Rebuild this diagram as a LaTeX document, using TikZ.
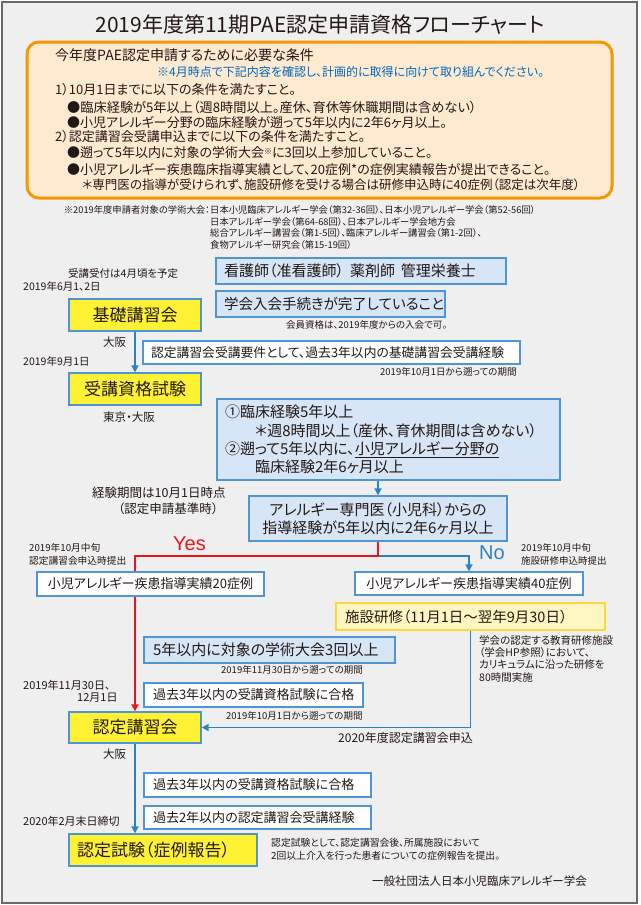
\documentclass[tikz,border=0pt]{standalone}
\usepackage{fontspec}
\setmainfont{Noto Sans CJK JP}[RawFeature=+palt]
\newfontfamily\lat{Liberation Sans}
\usetikzlibrary{arrows.meta}
\pgfdeclarelayer{bg}
\pgfdeclarelayer{lines}
\pgfsetlayers{bg,lines,main}
\definecolor{framebg}{HTML}{EFEFEF}
\definecolor{framec}{HTML}{6A6A6A}
\definecolor{orangec}{HTML}{F39800}
\definecolor{orangefill}{HTML}{FDEAD0}
\definecolor{bluet}{HTML}{0068C0}
\definecolor{lbfill}{HTML}{D6E6F6}
\definecolor{boxc}{HTML}{4F94D4}
\definecolor{yelc}{HTML}{FFF235}
\definecolor{arrc}{HTML}{2B83C6}
\definecolor{redc}{HTML}{E8141E}
\definecolor{sfill}{HTML}{FFF6C1}
\definecolor{sdraw}{HTML}{FFD541}
\definecolor{txt}{HTML}{231815}
\newcommand\fz[2]{\fontsize{#1}{#2}\selectfont}
\tikzset{
 every node/.style={inner sep=0pt, text=txt},
 lbl/.style={anchor=west},
 bx/.style={draw=boxc, line width=1.3pt, inner xsep=8pt, inner ysep=0pt, align=left},
 lb/.style={bx, fill=lbfill},
 wb/.style={bx, fill=white},
 yb/.style={bx, fill=yelc, align=center, font=\fz{17}{20}},
 con/.style={draw=arrc, line width=1.8pt},
 redcon/.style={draw=redc, line width=1.8pt},
 arrtip/.style={-{Triangle[length=7pt,width=7pt]}},
}
\begin{document}
\begin{tikzpicture}[x=1pt,y=-1pt]
\useasboundingbox (0,0) rectangle (640,905);
\begin{pgfonlayer}{bg}
\fill[white] (0,0) rectangle (640,905);
\draw[fill=framebg, draw=framec, line width=1.5pt] (2,2) rectangle (637,903);
\end{pgfonlayer}

% title
\node (title) at (320,25) {\fz{21}{25}2019年度第11期PAE認定申請資格フローチャート};

% condition box
\node[draw=orangec, fill=orangefill, line width=3pt, rounded corners=12pt, minimum width=585pt, minimum height=156pt] (cond) at (319.5,120) {};
\node[lbl, font=\fz{14}{16}] (c0) at (55,55) {今年度PAE認定申請するために必要な条件};
\node[lbl, font=\fz{12}{14}, text=bluet] (c1) at (157,72) {※4月時点で下記内容を確認し、計画的に取得に向けて取り組んでください。};
\node[lbl, font=\fz{13}{15}] (c2) at (55,90) {1）10月1日までに以下の条件を満たすこと。};
\node[lbl, font=\fz{13.2}{15}] (c3) at (67,107) {●臨床経験が5年以上（週8時間以上。産休、育休等休職期間は含めない）};
\node[lbl, font=\fz{13}{15}] (c4) at (67,123) {●小児アレルギー分野の臨床経験が遡って5年以内に2年6ヶ月以上。};
\node[lbl, font=\fz{13}{15}] (c5) at (55,137) {2）認定講習会受講申込までに以下の条件を満たすこと。};
\node[lbl, font=\fz{13}{15}] (c6) at (67,153) {●遡って5年以内に対象の学術大会\raisebox{3pt}{\fz{8}{8}※}に3回以上参加していること。};
\node[lbl, font=\fz{13}{15}] (c7) at (67,170) {●小児アレルギー疾患臨床指導実績として、20症例*の症例実績報告が提出できること。};
\node[lbl, font=\fz{12.5}{15}] (c8) at (82,185) {＊専門医の指導が受けられず、施設研修を受ける場合は研修申込時に40症例（認定は次年度）};

% footnote
\node[anchor=east, font=\fz{9.3}{11}] (fnh) at (210,210) {※2019年度申請者対象の学術大会：};
\node[lbl, font=\fz{9.3}{11}] (fn1) at (210,210) {日本小児臨床アレルギー学会（第32-36回）、日本小児アレルギー学会（第52-56回）};
\node[lbl, font=\fz{9.3}{11}] (fn2) at (210,221.5) {日本アレルギー学会（第64-68回）、日本アレルギー学会地方会};
\node[lbl, font=\fz{9.3}{11}] (fn3) at (210,233) {総合アレルギー講習会（第1-5回）、臨床アレルギー講習会（第1-2回）、};
\node[lbl, font=\fz{9.3}{11}] (fn4) at (210,244.5) {食物アレルギー研究会（第15-19回）};

% right requirement boxes
\node[lb, minimum height=26pt, text width=274pt, font=\fz{15}{18}] (req1) at (361,271) {看護師（准看護師）\hspace{6pt}薬剤師\hspace{6pt}管理栄養士};
\node[lb, minimum height=26pt, text width=213pt, font=\fz{14.5}{18}] (req2) at (330.5,304) {学会入会手続きが完了していること};
\node[lbl, font=\fz{9.5}{11}] (req2n) at (286,324.5) {会員資格は、2019年度からの入会で可。};
\node[wb, minimum height=23pt, text width=361pt, font=\fz{12.8}{15}] (req3) at (331.5,352.5) {認定講習会受講要件として、過去3年以内の基礎講習会受講経験};
\node[lbl, font=\fz{9.5}{11}] (req3n) at (380,372) {2019年10月1日から遡っての期間};

% left column labels
\node[lbl, font=\fz{10.5}{12}] (l1) at (68,274) {受講受付は4月頃を予定};
\node[lbl, font=\fz{10.5}{12}] (l2) at (23,286) {2019年6月1、2日};
\node[yb, minimum width=132pt, minimum height=32pt] (kiso) at (135,315) {基礎講習会};
\node[lbl, font=\fz{11.5}{13}] (l3) at (103,342) {大阪};
\node[lbl, font=\fz{10.5}{12}] (l4) at (23,361) {2019年9月1日};
\node[yb, minimum width=132pt, minimum height=32pt] (juken) at (135,389) {受講資格試験};
\node[lbl, font=\fz{11.5}{13}] (l5) at (103,417) {東京・大阪};

% clinical experience box
\node[lb, minimum height=81pt, text width=327pt, font=\fz{15}{18.3}] (exp) at (388.5,439.5) {①臨床経験5年以上\\\hspace*{30pt}＊週8時間以上（産休、育休期間は含めない）\\②遡って5年以内に、\underline{小児アレルギー分野の}\\\hspace*{30pt}臨床経験2年6ヶ月以上};
\node[lbl, font=\fz{12.5}{15}] (l6) at (92,493) {経験期間は10月1日時点};
\node[lbl, font=\fz{12.5}{15}] (l7) at (118,508.5) {（認定申請基準時）};
\node[lb, align=center, minimum width=258pt, minimum height=45pt, font=\fz{15}{18}] (senmon) at (378,518.5) {アレルギー専門医（小児科）からの\\指導経験が5年以内に2年6ヶ月以上};

% yes / no
\coordinate (split) at (378,556);
\node[font=\lat\fz{20}{22}, text=redc] (yes) at (189.5,544) {Yes};
\node[font=\lat\fz{20}{22}, text=arrc] (no) at (492,553) {No};
\node[lbl, font=\fz{9.7}{11}] (l8) at (29,548) {2019年10月中旬};
\node[lbl, font=\fz{9.7}{11}] (l9) at (29,561) {認定講習会申込時提出};
\node[lbl, font=\fz{9.5}{11}] (l10) at (521,548) {2019年10月中旬};
\node[lbl, font=\fz{9.5}{11}] (l11) at (521,561) {施設研修申込時提出};
\node[wb, align=center, minimum width=227pt, minimum height=24pt, font=\fz{13}{16}] (j20) at (150.5,584) {小児アレルギー疾患指導実績20症例};
\node[wb, align=center, minimum width=228pt, minimum height=23pt, font=\fz{13}{16}] (j40) at (469,583.5) {小児アレルギー疾患指導実績40症例};

% facility training
\node[bx, draw=sdraw, fill=sfill, minimum height=27pt, text width=251pt, inner xsep=9pt, font=\fz{14.5}{18}] (kenshu) at (470.5,616.5) {施設研修（11月1日～翌年9月30日）};
\node[lbl, align=left, font=\fz{10.5}{12.4}, anchor=north west] (kn) at (479,635) {学会の認定する教育研修施設\\（学会HP参照）において、\\カリキュラムに沿った研修を\\80時間実施};

% middle requirements
\node[lb, minimum height=26pt, text width=233pt, inner xsep=9pt, font=\fz{15}{18}] (gak) at (269.5,650) {5年以内に対象の学術大会3回以上};
\node[lbl, font=\fz{9.5}{11}] (gakn) at (221,669.5) {2019年11月30日から遡っての期間};
\node[wb, minimum height=24pt, text width=201pt, inner xsep=9pt, font=\fz{13}{16}] (pass1) at (253.5,695) {過去3年以内の受講資格試験に合格};
\node[lbl, font=\fz{9.5}{11}] (pass1n) at (226,715.5) {2019年10月1日から遡っての期間};
\node[lbl, font=\fz{11}{13}] (l12) at (23,685) {2019年11月30日、};
\node[lbl, font=\fz{11}{13}] (l13) at (77,697.5) {12月1日};

\node[yb, minimum width=132pt, minimum height=31pt] (nintei) at (135,727.5) {認定講習会};
\node[lbl, font=\fz{12}{14}] (l14) at (338,737.5) {2020年度認定講習会申込};
\node[lbl, font=\fz{11.5}{13}] (l15) at (103,754) {大阪};

\node[wb, minimum height=24pt, text width=209pt, inner xsep=9pt, font=\fz{13}{16}] (pass2) at (257.5,785) {過去3年以内の受講資格試験に合格};
\node[wb, minimum height=23pt, text width=209pt, inner xsep=9pt, font=\fz{13}{16}] (att2) at (257.5,817.5) {過去2年以内の認定講習会受講経験};
\node[lbl, font=\fz{11}{13}] (l16) at (23,821) {2020年2月末日締切};
\node[yb, align=left, minimum height=32pt, text width=172pt] (shiken) at (163,850) {認定試験（症例報告）};
\node[lbl, align=left, anchor=west, font=\fz{9.8}{13}] (sn) at (271,849.5) {認定試験として、認定講習会後、所属施設において\\2回以上介入を行った患者についての症例報告を提出。};
\node[lbl, font=\fz{11.5}{13}] (org) at (372,881) {一般社団法人日本小児臨床アレルギー学会};

% connectors
\begin{pgfonlayer}{lines}
\draw[con, arrtip] (kiso.south) -- (juken.north);
\draw[con, arrtip] (senmon.north |- exp.south) -- (senmon.north);
\draw[con, arrtip] (split) -| (j40.north);
\draw[redcon, arrtip] (senmon.south) -- (split) -| (nintei.north);
\draw[con, arrtip] (kenshu.south) |- (nintei.east);
\draw[con, arrtip] (nintei.south) -- (nintei.south |- shiken.north);
\end{pgfonlayer}
\end{tikzpicture}
\end{document}
